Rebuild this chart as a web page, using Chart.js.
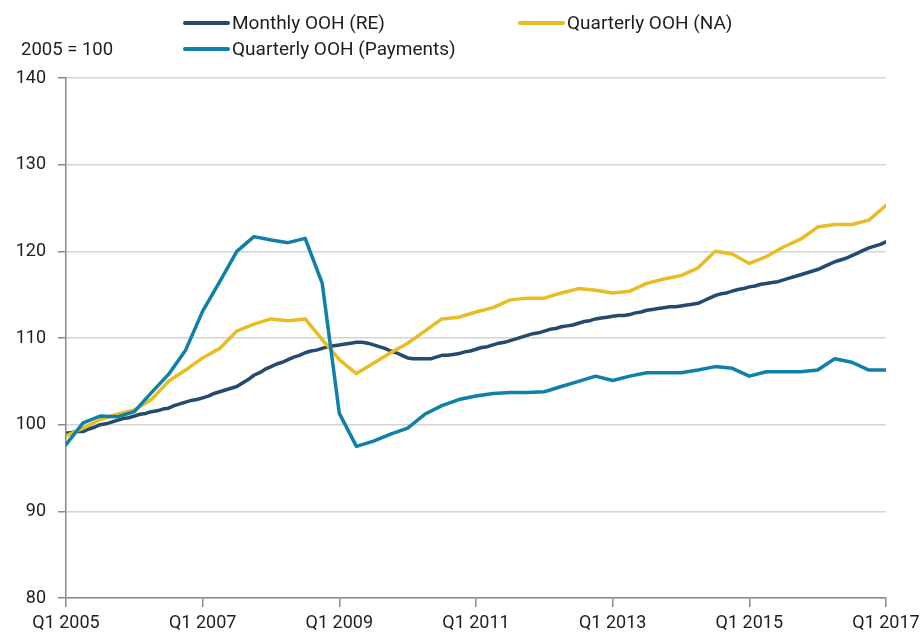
<!DOCTYPE html>
<html>
<head>
<meta charset="utf-8">
<script src="https://cdn.jsdelivr.net/npm/chart.js@4.4.1/dist/chart.umd.min.js"></script>
<style>
  html, body { margin: 0; padding: 0; background: #fff; }
  #wrap { position: relative; width: 923px; height: 634px; font-family: Roboto, sans-serif; color: #1e1e1e; }
  #chart { position: absolute; left: 0; top: 0; }
  .leg { position: absolute; display: flex; align-items: center; font-size: 19px; white-space: nowrap; }
  .leg .swatch { width: 47px; height: 4px; border-radius: 2px; margin-right: 2px; }
  #unit { position: absolute; left: 21px; top: 38px; font-size: 18.5px; }
</style>
</head>
<body>
<div id="wrap">
  <canvas id="chart" width="923" height="634"></canvas>
  <div id="unit">2005 = 100</div>
</div>
<script>
// x positions are months since Jan 2005
const tickLabels = ["Q1 2005", "Q1 2007", "Q1 2009", "Q1 2011", "Q1 2013", "Q1 2015", "Q1 2017"];
const seriesNames = ["Monthly OOH (RE)", "Quarterly OOH (NA)", "Quarterly OOH (Payments)"];

// Monthly, Jan 2005 .. Jan 2017
const monthlyRE = [
  99.0, 99.1, 99.2, 99.2, 99.5, 99.7, 100.0, 100.1, 100.3, 100.5, 100.7, 100.8,
  101.0, 101.2, 101.3, 101.5, 101.6, 101.8, 101.9, 102.2, 102.4, 102.6, 102.8, 102.9,
  103.1, 103.3, 103.6, 103.8, 104.0, 104.2, 104.4, 104.8, 105.2, 105.7, 106.0, 106.4,
  106.7, 107.0, 107.2, 107.5, 107.8, 108.0, 108.3, 108.5, 108.6, 108.8, 109.0, 109.1,
  109.2, 109.3, 109.4, 109.5, 109.5, 109.4, 109.2, 109.0, 108.8, 108.5, 108.3, 108.0,
  107.7, 107.6, 107.6, 107.6, 107.6, 107.8, 108.0, 108.0, 108.1, 108.2, 108.4, 108.5,
  108.7, 108.9, 109.0, 109.2, 109.4, 109.5, 109.7, 109.9, 110.1, 110.3, 110.5, 110.6,
  110.8, 111.0, 111.1, 111.3, 111.4, 111.5, 111.7, 111.9, 112.0, 112.2, 112.3, 112.4,
  112.5, 112.6, 112.6, 112.7, 112.9, 113.0, 113.2, 113.3, 113.4, 113.5, 113.6, 113.6,
  113.7, 113.8, 113.9, 114.0, 114.3, 114.6, 114.9, 115.1, 115.2, 115.4, 115.6, 115.7,
  115.9, 116.0, 116.2, 116.3, 116.4, 116.5, 116.7, 116.9, 117.1, 117.3, 117.5, 117.7,
  117.9, 118.2, 118.5, 118.8, 119.0, 119.2, 119.5, 119.8, 120.1, 120.4, 120.6, 120.8,
  121.1
];

// Quarterly, Q1 2005 .. Q1 2017
const quarterlyNA = [
  98.7, 99.6, 100.6, 101.2, 101.7, 102.9, 105.0, 106.3,
  107.7, 108.8, 110.8, 111.6, 112.2, 112.0, 112.2, 109.8,
  107.5, 105.9, 107.1, 108.3, 109.4, 110.8, 112.2, 112.4,
  113.0, 113.5, 114.4, 114.6, 114.6, 115.2, 115.7, 115.5,
  115.2, 115.4, 116.3, 116.8, 117.2, 118.1, 120.0, 119.7,
  118.6, 119.4, 120.5, 121.4, 122.8, 123.1, 123.1, 123.6,
  125.3
];
const quarterlyPayments = [
  97.7, 100.2, 101.0, 100.9, 101.5, 103.7, 105.8, 108.6,
  113.1, 116.5, 120.0, 121.7, 121.3, 121.0, 121.5, 116.3,
  101.3, 97.5, 98.1, 98.9, 99.6, 101.2, 102.2, 102.9,
  103.3, 103.6, 103.7, 103.7, 103.8, 104.4, 105.0, 105.6,
  105.1, 105.6, 106.0, 106.0, 106.0, 106.3, 106.7, 106.5,
  105.6, 106.1, 106.1, 106.1, 106.3, 107.6, 107.2, 106.3,
  106.3
];

const colors = ["#244a70", "#e8bd24", "#0f80a8"];

const toPoints = (vals, step) => vals.map((v, i) => ({ x: i * step, y: v }));

// legend, laid out as in the original (two columns)
const legendPos = [[183, 11], [518, 11], [183, 37]];
const wrap = document.getElementById("wrap");
seriesNames.forEach((name, i) => {
  const item = document.createElement("div");
  item.className = "leg";
  item.style.left = legendPos[i][0] + "px";
  item.style.top = legendPos[i][1] + "px";
  item.innerHTML = `<span class="swatch" style="background:${colors[i]}"></span><span>${name}</span>`;
  wrap.appendChild(item);
});

const axisGrey = "#8a8a8a";
const font = { family: "Roboto, sans-serif", size: 18 };

new Chart(document.getElementById("chart"), {
  type: "line",
  data: {
    datasets: [
      { label: seriesNames[0], data: toPoints(monthlyRE, 1), borderColor: colors[0], order: 2 },
      { label: seriesNames[1], data: toPoints(quarterlyNA, 3), borderColor: colors[1], order: 1 },
      { label: seriesNames[2], data: toPoints(quarterlyPayments, 3), borderColor: colors[2], order: 0 },
    ],
  },
  options: {
    responsive: false,
    animation: false,
    layout: { padding: { top: 78, right: 37, left: 0, bottom: 0 } },
    elements: {
      line: { borderWidth: 3.5, tension: 0, borderCapStyle: "round", borderJoinStyle: "round" },
      point: { radius: 0 },
    },
    plugins: { legend: { display: false }, tooltip: { enabled: false } },
    scales: {
      x: {
        type: "linear",
        min: 0,
        max: 144,
        afterFit: (scale) => {
          scale.height = 36;
          // let the last label hang into the right margin, as in the original
          scale.paddingLeft = 0;
          scale.paddingRight = 0;
        },
        afterBuildTicks: (scale) => { scale.ticks = tickLabels.map((_, i) => ({ value: i * 24 })); },
        ticks: {
          autoSkip: false,
          maxRotation: 0,
          padding: 6,
          color: "#1e1e1e",
          font,
          callback: (v) => tickLabels[v / 24],
        },
        grid: { drawOnChartArea: false, drawTicks: true, tickLength: 9, tickColor: axisGrey, lineWidth: 1.5 },
        border: { color: axisGrey, width: 1.5 },
      },
      y: {
        min: 80,
        max: 140,
        afterFit: (scale) => { scale.width = 66; },
        ticks: { stepSize: 10, padding: 12, color: "#1e1e1e", font },
        grid: { color: "#d4d4d4", lineWidth: 1.5, tickLength: 8, tickColor: axisGrey },
        border: { color: axisGrey, width: 1.5 },
      },
    },
  },
});
</script>
</body>
</html>
